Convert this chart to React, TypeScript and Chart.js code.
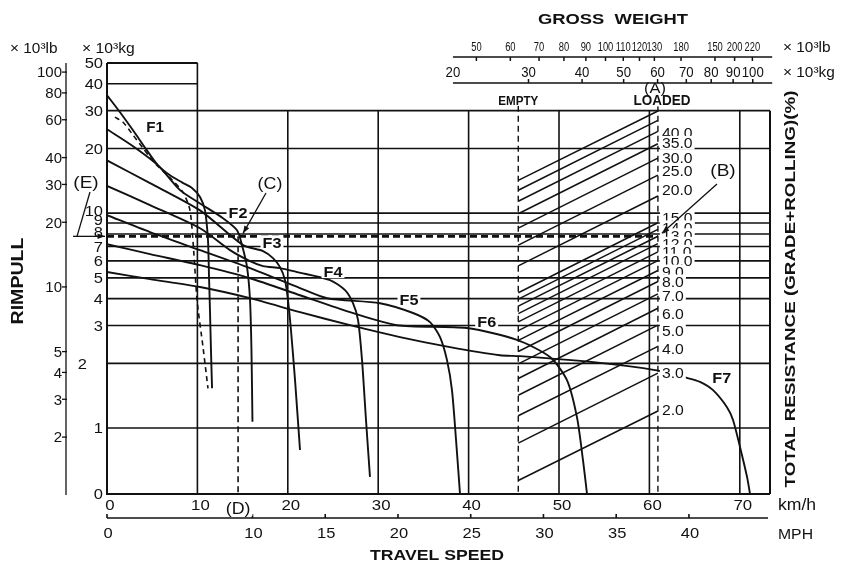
import React, { useEffect, useRef } from "react";
import { Chart, registerables } from "chart.js";

Chart.register(...registerables);

// ---------------- data ----------------
// axis ranges
const speedRange = [0, 73.34]; // km/h
const rimpullRange = [0.493, 50]; // x10^3 kg
const weightRange = [3.122, 109.7]; // x10^3 kg (gross weight nomogram scale)
const frameTopRimpull = 30;
const KG_PER_LB = 1 / 2.2046;
const KMH_PER_MPH = 1.609344;

// rimpull curves: [km/h, x10^3 kg]
const curveF1 = [[0, 35.4], [1.44, 29.5], [2.88, 24.3], [4.42, 19.6], [5.64, 16.7], [6.97, 15.0], [8.3, 13.9], [9.4, 13.1], [10.29, 11.9], [10.84, 10.3], [11.17, 7.5], [11.28, 5.15], [11.39, 3.54], [11.5, 2.31], [11.62, 1.53]];
const curveF1Dashed = [[0.88, 28.0], [1.77, 26.5], [2.88, 23.1], [3.98, 20.1], [4.76, 18.2], [5.53, 16.7], [6.97, 14.6], [8.41, 12.5], [9.18, 10.3], [9.62, 6.4], [9.96, 3.94], [10.62, 2.38], [11.17, 1.53]];
const curveF2 = [[0, 24.6], [2.88, 20.5], [5.64, 16.7], [8.08, 12.8], [10.29, 11.1], [12.83, 9.48], [14.38, 8.33], [14.93, 7.1], [15.49, 5.61], [15.82, 3.94], [15.98, 2.31], [16.09, 1.07]];
const curveF3 = [[0, 17.6], [4.76, 13.8], [10.29, 10.3], [15.04, 7.1], [17.26, 6.66], [18.36, 6.18], [19.14, 5.61], [19.69, 4.88], [20.02, 3.94], [20.35, 2.86], [20.8, 1.67], [21.35, 0.79]];
const curveF4 = [[0, 13.4], [4.76, 10.9], [10.29, 8.51], [13.61, 6.73], [15.82, 5.98], [17.26, 5.67], [19.14, 5.55], [21.02, 5.32], [24.67, 4.88], [26.33, 4.38], [27.21, 3.81], [27.77, 3.18], [28.21, 2.07], [28.65, 1.09], [29.09, 0.592]];
const curveF5 = [[0, 9.79], [4.76, 8.16], [10.29, 6.73], [15.82, 5.55], [21.35, 4.48], [24.34, 4.02], [30.2, 3.81], [33.85, 3.43], [35.73, 3.11], [36.84, 2.65], [37.61, 2.07], [38.16, 1.5], [38.61, 0.88], [39.05, 0.493]];
const curveF6 = [[0, 7.17], [4.76, 6.45], [10.29, 5.73], [15.82, 4.98], [21.35, 4.15], [26.88, 3.46], [32.08, 3.01], [39.82, 2.92], [45.35, 2.57], [49.0, 2.14], [50.88, 1.67], [51.99, 1.12], [52.65, 0.71], [53.1, 0.493]];
const curveF7 = [[0, 5.32], [4.76, 4.93], [10.29, 4.53], [15.82, 4.02], [21.35, 3.46], [26.88, 3.01], [32.41, 2.65], [37.94, 2.38], [43.47, 2.18], [45.69, 2.16], [54.54, 2.01], [60.62, 1.86], [64.16, 1.71], [65.6, 1.64], [67.04, 1.5], [68.58, 1.25], [69.25, 1.09], [70.02, 0.816], [70.8, 0.592], [71.13, 0.493]];
const curveNames = ["F1", "F2", "F3", "F4", "F5", "F6", "F7"];
const curveNamePos = [[5.31, 25.1], [14.49, 10.1], [18.25, 7.33], [25.0, 5.37], [33.4, 3.98], [42.0, 3.14], [68.0, 1.71]];

// total resistance lines (gross weight nomogram)
const emptyWeight = 28.4; // x10^3 kg
const loadedWeight = 60.1; // x10^3 kg
const grades = [2, 3, 4, 5, 6, 7, 8, 9, 10, 11, 12, 13, 14, 15, 20, 25, 30, 35, 40, 45, 50];
const gradeLabels = ["2.0", "3.0", "4.0", "5.0", "6.0", "7.0", "8.0", "9.0", "10.0", "11.0", "12.0", "13.0", "14.0", "15.0", "20.0", "25.0", "30.0", "35.0", "40.0", "", ""];
const emptyRimpull = [0.57, 0.85, 1.14, 1.42, 1.7, 1.99, 2.27, 2.56, 2.84, 3.12, 3.41, 3.69, 3.98, 4.26, 5.68, 7.1, 8.52, 9.94, 11.36, 12.78, 14.2];
const loadedRimpull = [1.2, 1.8, 2.4, 3.01, 3.61, 4.21, 4.81, 5.41, 6.01, 6.61, 7.21, 7.81, 8.41, 9.02, 12.02, 15.03, 18.03, 21.04, 24.04, 27.05, 29.9];

// worked example
const requiredRimpull = 7.8; // x10^3 kg  (B)->(E)
const pointDSpeed = 14.5; // km/h (C)->(D)

// ticks / grid
const rimpullTicks = [50, 40, 30, 20, 10, 9, 8, 7, 6, 5, 4, 3, 2, 1, 0.493];
const rimpullTickLabels = ["50", "40", "30", "20", "10", "9", "8", "7", "6", "5", "4", "3", "2", "1", "0"];
const rimpullLbTicks = [100, 80, 60, 40, 30, 20, 10, 5, 4, 3, 2];
const rimpullLbLabels = ["100", "80", "60", "40", "30", "20", "10", "5", "4", "3", "2"];
const gridFull = [30, 20, 10, 9, 8, 7, 6, 5, 4, 3, 2, 1];
const gridLeftBox = [50, 40];
const speedGrid = [20, 30, 40, 50, 60, 70];
const speedTicks = [0, 10, 20, 30, 40, 50, 60, 70];
const mphTicks = [0, 10, 15, 20, 25, 30, 35, 40];
const grossKgTicks = [20, 30, 40, 50, 60, 70, 80, 90, 100];
const grossKgLabels = ["20", "30", "40", "50", "60", "70", "80", "90", "100"];
const grossLbTicks = [50, 60, 70, 80, 90, 100, 110, 120, 130, 150, 180, 200, 220];
const grossLbLabels = ["50", "60", "70", "80", "90", "100", "110", "120", "130", "180", "150", "200", "220"];

// ---------------- drawing helpers ----------------
const INK = "#111111";
const FONT = '"Liberation Sans", Arial, Helvetica, sans-serif';
const gradeLabelNudge = [-1, -1, 2, 5, 5, 2, 0, 1, 0, 0, 0, -1, -2, -5, -6, -5, -1, -1, 1, 0, 0];

type TO = { size: number; bold?: boolean; align?: "left" | "right" | "center"; sx?: number; width?: number; bg?: boolean };

function drawText(ctx: CanvasRenderingContext2D, s: string, x: number, y: number, o: TO) {
  if (!s) return;
  ctx.save();
  ctx.font = `${o.bold ? "bold " : ""}${o.size}px ${FONT}`;
  ctx.textAlign = "left";
  ctx.textBaseline = "alphabetic";
  const w = ctx.measureText(s).width;
  const k = o.width ? o.width / w : o.sx ?? 1;
  const tw = w * k;
  const a = o.align ?? "center";
  const left = a === "left" ? x : a === "right" ? x - tw : x - tw / 2;
  if (o.bg) {
    ctx.fillStyle = "#fff";
    ctx.fillRect(left - 2, y - o.size * 0.46, tw + 4, o.size * 0.92);
  }
  ctx.translate(left, y + o.size * 0.36);
  ctx.scale(k, 1);
  ctx.fillStyle = INK;
  ctx.fillText(s, 0, 0);
  ctx.restore();
}

function drawRotated(ctx: CanvasRenderingContext2D, s: string, cx: number, cy: number, o: TO) {
  ctx.save();
  ctx.translate(cx, cy);
  ctx.rotate(-Math.PI / 2);
  drawText(ctx, s, 0, 0, o);
  ctx.restore();
}

function seg(ctx: CanvasRenderingContext2D, ax: number, ay: number, bx: number, by: number) {
  ctx.beginPath();
  ctx.moveTo(ax, ay);
  ctx.lineTo(bx, by);
  ctx.stroke();
}

function arrow(ctx: CanvasRenderingContext2D, ax: number, ay: number, bx: number, by: number, head = 8) {
  seg(ctx, ax, ay, bx, by);
  const ang = Math.atan2(by - ay, bx - ax);
  ctx.beginPath();
  ctx.moveTo(bx, by);
  ctx.lineTo(bx - head * Math.cos(ang - 0.35), by - head * Math.sin(ang - 0.35));
  ctx.lineTo(bx - head * Math.cos(ang + 0.35), by - head * Math.sin(ang + 0.35));
  ctx.closePath();
  ctx.fill();
}

function mappers(chart: any) {
  const sx = chart.scales.x, sy = chart.scales.y, sw = chart.scales.xw;
  return {
    X: (v: number) => sx.getPixelForValue(v),
    Y: (v: number) => sy.getPixelForValue(v),
    W: (v: number) => sw.getPixelForValue(v),
  };
}

const decorPlugin = {
  id: "rimpullDecor",
  beforeDraw(chart: any) {
    const ctx = chart.ctx as CanvasRenderingContext2D;
    ctx.save();
    ctx.fillStyle = "#fff";
    ctx.fillRect(0, 0, chart.width, chart.height);
    ctx.restore();
  },
  beforeDatasetsDraw(chart: any) {
    const ctx = chart.ctx as CanvasRenderingContext2D;
    const { X, Y, W } = mappers(chart);
    const x0 = X(speedRange[0]), x1 = X(speedRange[1]);
    const yb = Y(rimpullRange[0]), yt = Y(rimpullRange[1]);
    const yTop = Y(frameTopRimpull);
    ctx.save();
    ctx.strokeStyle = INK;
    ctx.fillStyle = INK;
    ctx.lineWidth = 1.6;
    for (const v of gridFull) seg(ctx, x0, Y(v), x1, Y(v));
    for (const v of gridLeftBox) seg(ctx, x0, Y(v), X(10), Y(v));
    seg(ctx, X(10), yt, X(10), yb);
    for (const s of speedGrid) seg(ctx, X(s), yTop, X(s), yb);
    ctx.lineWidth = 2;
    seg(ctx, x0, yt, x0, yb + 1);
    seg(ctx, x0, yb, x1, yb);
    seg(ctx, x1, yTop, x1, yb);
    seg(ctx, x0, yt, X(10), yt);
    // empty / loaded weight lines
    ctx.setLineDash([6, 4]);
    ctx.lineWidth = 1.4;
    seg(ctx, W(emptyWeight), yTop - 5, W(emptyWeight), yb);
    seg(ctx, W(loadedWeight), yTop - 5, W(loadedWeight), yb);
    // worked example (E)-(B) and (C)-(D)
    ctx.lineWidth = 2.6;
    ctx.setLineDash([7, 4]);
    seg(ctx, x0, Y(requiredRimpull), W(loadedWeight), Y(requiredRimpull));
    ctx.lineWidth = 1.6;
    ctx.setLineDash([6, 4]);
    seg(ctx, X(pointDSpeed), Y(requiredRimpull), X(pointDSpeed), yb);
    ctx.restore();
  },
  afterDatasetsDraw(chart: any) {
    const ctx = chart.ctx as CanvasRenderingContext2D;
    const { X, Y, W } = mappers(chart);
    const x0 = X(speedRange[0]), x1 = X(speedRange[1]);
    const yb = Y(rimpullRange[0]), yt = Y(rimpullRange[1]);
    ctx.save();
    ctx.strokeStyle = INK;
    ctx.fillStyle = INK;
    ctx.lineWidth = 1.4;

    // grade labels (draw top to bottom so lower ones overlap upper ones)
    for (let i = grades.length - 1; i >= 0; i--) {
      drawText(ctx, gradeLabels[i], W(loadedWeight) + 4, Y(loadedRimpull[i]) + gradeLabelNudge[i], { size: 15, sx: 1.05, align: "left", bg: true });
    }

    // curve names
    curveNames.forEach((n, i) => {
      drawText(ctx, n, X(curveNamePos[i][0]), Y(curveNamePos[i][1]), { size: i === 0 ? 14 : 15, bold: true, sx: 1.08, bg: true });
    });

    // left rimpull axis (kg)
    rimpullTicks.forEach((v, i) => {
      const dy = v === 10 || v === 9 ? -3 : v === 8 ? -2 : 0;
      const xr = v === 2 ? 87 : 103;
      drawText(ctx, rimpullTickLabels[i], xr, Y(v) + dy, { size: 15, sx: 1.1, align: "right" });
    });
    drawText(ctx, "× 10³kg", 82, 48, { size: 14, sx: 1.12, align: "left" });

    // left rimpull axis (lb)
    const lbX = 66;
    ctx.lineWidth = 1.3;
    seg(ctx, lbX, yt, lbX, yb + 1);
    rimpullLbTicks.forEach((v, i) => {
      const y = Y(v * KG_PER_LB);
      seg(ctx, lbX - 4, y, lbX + 1, y);
      drawText(ctx, rimpullLbLabels[i], lbX - 4, y, { size: 15, sx: 1.0, align: "right" });
    });
    drawText(ctx, "× 10³lb", 10, 48, { size: 14, sx: 1.1, align: "left" });
    drawRotated(ctx, "RIMPULL", 17, 281, { size: 16, bold: true, width: 87 });

    // bottom speed axes
    speedTicks.forEach((v) => drawText(ctx, String(v), X(v) + 3, 505, { size: 15, sx: 1.12 }));
    drawText(ctx, "km/h", 778, 504, { size: 16, sx: 1.1, align: "left" });
    const mphY = 518;
    ctx.lineWidth = 1.6;
    seg(ctx, x0, mphY, x1 - 2, mphY);
    mphTicks.forEach((m) => {
      const x = X(m * KMH_PER_MPH);
      seg(ctx, x, mphY, x, mphY - 4);
      drawText(ctx, String(m), x + 1, 533, { size: 15, sx: 1.1 });
    });
    drawText(ctx, "MPH", 778, 534, { size: 15, sx: 1.05, align: "left" });
    drawText(ctx, "TRAVEL SPEED", 437, 555, { size: 15, bold: true, width: 134 });

    // top gross weight axes
    const lbAxisY = 57, kgAxisY = 83;
    const gx0 = W(grossKgTicks[0]), gx1 = W(111);
    ctx.lineWidth = 1.5;
    seg(ctx, gx0, lbAxisY, gx1, lbAxisY);
    seg(ctx, gx0, kgAxisY, gx1, kgAxisY);
    grossLbTicks.forEach((lb, i) => {
      const x = W(lb * KG_PER_LB);
      seg(ctx, x, lbAxisY, x, lbAxisY + 4);
      drawText(ctx, grossLbLabels[i], x, 47, { size: 12, sx: 0.78 });
    });
    grossKgTicks.forEach((kg, i) => {
      const x = W(kg);
      if (i > 0) seg(ctx, x, kgAxisY - 4, x, kgAxisY);
      drawText(ctx, grossKgLabels[i], x, 72, { size: 15, sx: 0.88 });
    });
    drawText(ctx, "× 10³lb", 783, 47, { size: 14, sx: 1.1, align: "left" });
    drawText(ctx, "× 10³kg", 783, 72, { size: 14, sx: 1.1, align: "left" });
    drawText(ctx, "GROSS  WEIGHT", 613, 19, { size: 15, bold: true, width: 150 });
    drawText(ctx, "EMPTY", W(emptyWeight), 100, { size: 13, bold: true, width: 40, bg: true });
    drawText(ctx, "LOADED", W(loadedWeight) + 4, 100, { size: 14, bold: true, width: 57, bg: true });
    drawText(ctx, "(A)", W(loadedWeight) - 3, 88, { size: 15, sx: 1.1 });
    drawRotated(ctx, "TOTAL RESISTANCE (GRADE+ROLLING)(%)", 790, 289, { size: 15, bold: true, width: 397 });

    // worked-example annotations
    const yReq = Y(requiredRimpull);
    ctx.lineWidth = 1.3;
    drawText(ctx, "(B)", 723, 170, { size: 17, sx: 1.12 });
    arrow(ctx, 717, 184, W(loadedWeight) + 4, yReq - 3);
    drawText(ctx, "(C)", 270, 183, { size: 17, sx: 1.05 });
    arrow(ctx, 266, 193, X(pointDSpeed) + 5, yReq - 3);
    drawText(ctx, "(D)", X(pointDSpeed), 508, { size: 17, sx: 1.05, bg: true });
    drawText(ctx, "(E)", 86, 182, { size: 17, sx: 1.12 });
    seg(ctx, 90, 192, 77, yReq);
    arrow(ctx, 73, yReq, x0 - 2, yReq, 8);
    ctx.restore();
  },
};

const lineDs = (pts: number[][], extra: any = {}) => ({
  data: pts.map(([x, y]) => ({ x, y })),
  showLine: true,
  borderColor: INK,
  borderWidth: 1.9,
  pointRadius: 0,
  tension: 0.25,
  xAxisID: "x",
  yAxisID: "y",
  ...extra,
});

export default function App() {
  const ref = useRef<HTMLCanvasElement | null>(null);
  useEffect(() => {
    if (!ref.current) return;
    const curves = [curveF1, curveF2, curveF3, curveF4, curveF5, curveF6, curveF7];
    const datasets: any[] = [
      ...grades.map((g, i) =>
        lineDs([[emptyWeight, emptyRimpull[i]], [loadedWeight, loadedRimpull[i]]], { xAxisID: "xw", tension: 0, borderWidth: 1.5, label: `${g}%` })
      ),
      ...curves.map((c, i) => lineDs(c, { label: curveNames[i] })),
      lineDs(curveF1Dashed, { borderDash: [5, 4], borderWidth: 1.6, label: "F1 (dashed)" }),
    ];
    const chart = new Chart(ref.current, {
      type: "scatter",
      data: { datasets },
      options: {
        animation: false,
        responsive: false,
        events: [],
        layout: { padding: { left: 107, right: 72, top: 63, bottom: 69 } },
        plugins: { legend: { display: false }, tooltip: { enabled: false } },
        scales: {
          x: { type: "linear", min: speedRange[0], max: speedRange[1], display: false },
          y: { type: "logarithmic", min: rimpullRange[0], max: rimpullRange[1], display: false },
          xw: { type: "logarithmic", axis: "x", position: "top", min: weightRange[0], max: weightRange[1], display: false },
        },
      } as any,
      plugins: [decorPlugin as any],
    });
    return () => chart.destroy();
  }, []);
  return (
    <div style={{ position: "absolute", left: 0, top: 0, width: 842, height: 563, background: "#fff" }}>
      <canvas ref={ref} width={842} height={563} style={{ display: "block", width: 842, height: 563 }} />
    </div>
  );
}
